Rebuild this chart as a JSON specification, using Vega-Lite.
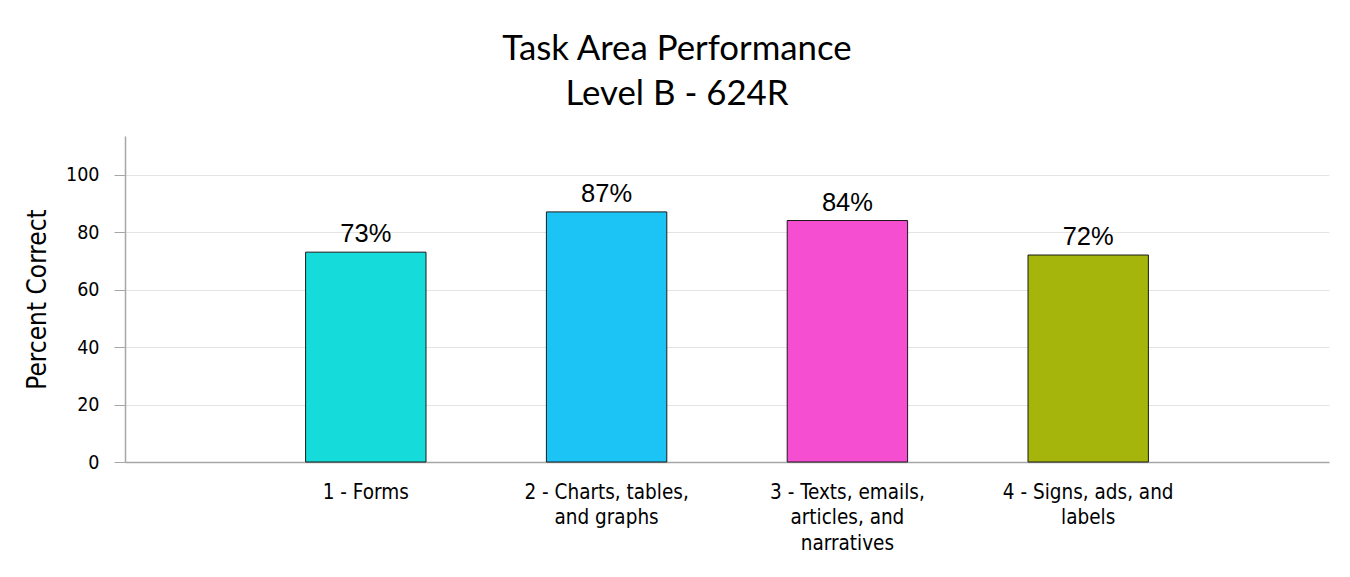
{
  "$schema": "https://vega.github.io/schema/vega-lite/v6.json",
  "autosize": {"type": "none"},
  "width": 1204,
  "height": 326,
  "padding": {"left": 125, "top": 136, "right": 21, "bottom": 115},
  "background": "white",
  "config": {"view": {"stroke": null}, "font": "DejaVu Sans Condensed"},
  "title": {
    "text": ["Task Area Performance", "Level B - 624R"],
    "font": "Lato",
    "fontSize": 34.8,
    "fontWeight": "normal",
    "color": "#000000",
    "lineHeight": 45,
    "anchor": "middle",
    "dx": -50,
    "offset": 23
  },
  "data": {
    "values": [
      {"task": "1 - Forms", "pct": 73, "label": "73%"},
      {"task": "2 - Charts, tables,|and graphs", "pct": 87, "label": "87%"},
      {"task": "3 - Texts, emails,|articles, and|narratives", "pct": 84, "label": "84%"},
      {"task": "4 - Signs, ads, and|labels", "pct": 72, "label": "72%"}
    ]
  },
  "encoding": {
    "x": {
      "field": "task",
      "type": "nominal",
      "sort": null,
      "scale": {"paddingInner": 0.5, "paddingOuter": 0.75},
      "axis": {
        "title": null,
        "labelAngle": 0,
        "labelExpr": "split(datum.label, '|')",
        "ticks": false,
        "tickSize": 0,
        "labelPadding": 20,
        "labelBaseline": "top",
        "labelLineHeight": 25.5,
        "labelFont": "DejaVu Sans Condensed",
        "labelFontSize": 20.5,
        "labelColor": "#000000",
        "domainColor": "#a6a6a6",
        "domainWidth": 1.5
      }
    },
    "y": {
      "field": "pct",
      "type": "quantitative",
      "scale": {"domain": [0, 113.4], "nice": false},
      "axis": {
        "title": "Percent Correct",
        "titleFont": "DejaVu Sans Condensed",
        "titleFontSize": 26,
        "titleFontWeight": "normal",
        "titleColor": "#000000",
        "titlePadding": 15,
        "values": [0, 20, 40, 60, 80, 100],
        "tickSize": 11,
        "tickColor": "#a6a6a6",
        "labelPadding": 15,
        "labelFont": "DejaVu Sans Condensed",
        "labelFontSize": 19.5,
        "labelColor": "#000000",
        "domainColor": "#a6a6a6",
        "domainWidth": 1.5,
        "gridColor": "#e4e4e4",
        "gridWidth": 1
      }
    }
  },
  "layer": [
    {
      "mark": {"type": "bar", "stroke": "#1a1a1a", "strokeWidth": 1},
      "encoding": {
        "color": {
          "field": "task",
          "type": "nominal",
          "sort": null,
          "scale": {"range": ["#15DCDA", "#1CC4F5", "#F64ED1", "#A5B50C"]},
          "legend": null
        }
      }
    },
    {
      "mark": {"type": "text", "baseline": "alphabetic", "dy": -10, "font": "Liberation Sans", "fontSize": 25.5, "color": "#000000"},
      "encoding": {"text": {"field": "label"}}
    }
  ]
}
